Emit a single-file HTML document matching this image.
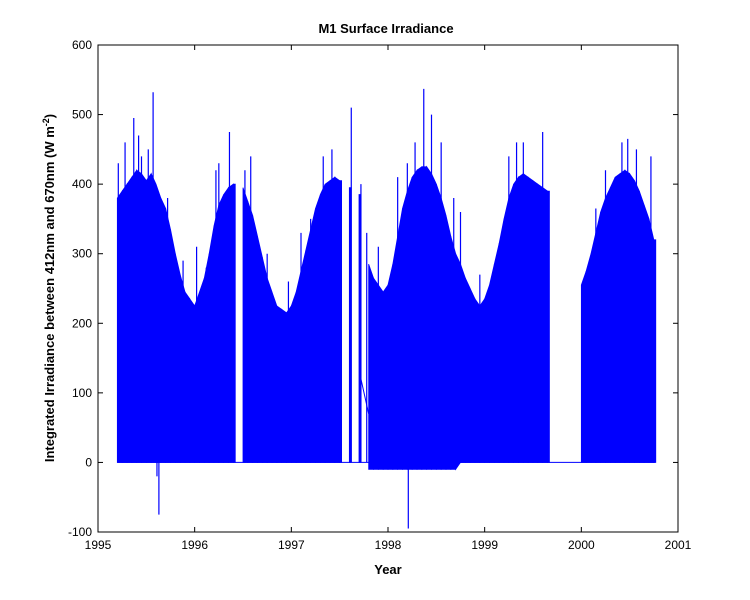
<!DOCTYPE html>
<html><head><meta charset="utf-8"><style>
body{margin:0;background:#fff;}
svg{display:block;font-family:"Liberation Sans",Arial,sans-serif;}
</style></head><body>
<svg id="chart" width="750" height="600">
<rect x="0" y="0" width="750" height="600" fill="#fff"/>
<g id="plot"></g>
<g id="axes"></g>
<text x="386" y="33" text-anchor="middle" font-size="13" font-weight="bold">M1 Surface Irradiance</text>
<text x="388" y="574" text-anchor="middle" font-size="13" font-weight="bold">Year</text>
<text transform="translate(54,288) rotate(-90)" text-anchor="middle" font-size="13" font-weight="bold">Integrated Irradiance between 412nm and 670nm (W m<tspan dy="-5" font-size="9">-2</tspan><tspan dy="5">)</tspan></text>
</svg>
<script>
const xTicks=[1995,1996,1997,1998,1999,2000,2001];
const yTicks=[-100,0,100,200,300,400,500,600];
const sampleYears=[1995.20,1995.25,1995.30,1995.35,1995.40,1995.45,1995.50,1995.55,1995.60,1995.65,1995.70,1995.75,1995.80,1995.85,1995.90,1995.95,1996.00,1996.05,1996.10,1996.15,1996.20,1996.25,1996.30,1996.35,1996.40,1996.45,1996.50,1996.55,1996.60,1996.65,1996.70,1996.75,1996.80,1996.85,1996.90,1996.95,1997.00,1997.05,1997.10,1997.15,1997.20,1997.25,1997.30,1997.35,1997.40,1997.45,1997.50,1997.55,1997.60,1997.65,1997.70,1997.75,1997.80,1997.85,1997.90,1997.95,1998.00,1998.05,1998.10,1998.15,1998.20,1998.25,1998.30,1998.35,1998.40,1998.45,1998.50,1998.55,1998.60,1998.65,1998.70,1998.75,1998.80,1998.85,1998.90,1998.95,1999.00,1999.05,1999.10,1999.15,1999.20,1999.25,1999.30,1999.35,1999.40,1999.45,1999.50,1999.55,1999.60,1999.65,2000.00,2000.05,2000.10,2000.15,2000.20,2000.25,2000.30,2000.35,2000.40,2000.45,2000.50,2000.55,2000.60,2000.65,2000.70,2000.75];
const maxVals=[380,390,400,410,420,415,405,415,400,380,365,335,300,270,245,235,225,245,265,300,340,370,385,395,400,null,395,375,355,325,295,265,245,225,220,215,225,245,275,305,335,365,385,400,405,410,405,null,395,null,385,null,285,265,255,245,255,285,325,365,390,410,420,425,425,415,400,380,355,325,300,285,265,250,235,225,235,255,285,315,350,380,400,410,415,410,405,400,395,390,255,275,300,330,360,380,395,410,415,420,415,405,390,370,350,320];
const negStart=1997.78, negEnd=1998.70, negDepth=-10;
const spikeYears=[1995.21,1995.28,1995.37,1995.42,1995.45,1995.52,1995.57,1995.61,1995.63,1995.72,1995.88,1996.02,1996.12,1996.22,1996.25,1996.36,1996.52,1996.58,1996.75,1996.97,1997.10,1997.20,1997.33,1997.42,1997.62,1997.72,1997.78,1997.90,1998.10,1998.20,1998.21,1998.28,1998.37,1998.45,1998.55,1998.68,1998.75,1998.95,1999.25,1999.33,1999.40,1999.60,2000.15,2000.25,2000.42,2000.48,2000.57,2000.72];
const spikeVals=[430,460,495,470,440,450,532,-20,-75,380,290,310,280,420,430,475,420,440,300,260,330,350,440,450,510,400,330,310,410,430,-95,460,537,500,460,380,360,270,440,460,460,475,365,420,460,465,450,440];
const gapLineYears=[1997.72,1997.80];
const gapLineVals=[120,70];
const x0=98,x1=678,yTop=45,yBot=532;
const X=v=>x0+(v-1995)/(2001-1995)*(x1-x0);
const Y=v=>yBot-(v+100)/700*(yBot-yTop);
const minAt=yr=>(yr>=negStart&&yr<=negEnd)?negDepth:0;
const NS="http://www.w3.org/2000/svg";
const plot=document.getElementById('plot'),axes=document.getElementById('axes');
function mk(tag,attrs,parent){const e=document.createElementNS(NS,tag);for(const k in attrs)e.setAttribute(k,attrs[k]);parent.appendChild(e);return e;}
let bl=mk('line',{x1:X(1995.2),x2:X(2000.76),y1:Y(0),y2:Y(0),stroke:'#00f','stroke-width':1},plot);


let gl=mk('line',{x1:X(gapLineYears[0]),x2:X(gapLineYears[1]),y1:Y(gapLineVals[0]),y2:Y(gapLineVals[1]),stroke:'#00f','stroke-width':1},plot);


for(let i=0;i<sampleYears.length;i++){
  const v=maxVals[i];
  if(v===null||v===undefined)continue;
  const a=sampleYears[i];
  const hasNext=(i+1<sampleYears.length)&&maxVals[i+1]!==null&&maxVals[i+1]!==undefined&&(sampleYears[i+1]-a)<0.06;
  const b=hasNext?sampleYears[i+1]:a+0.02;
  const vb=hasNext?maxVals[i+1]:v;
  const pts=[X(a)+','+Y(v),X(b)+','+Y(vb),X(b)+','+Y(minAt(b)),X(a)+','+Y(minAt(a))].join(' ');
  const p=mk('polygon',{points:pts,fill:'#00f',stroke:'#00f','stroke-width':0.8},plot);
  
  
}
for(let i=0;i<spikeYears.length;i++){
  const l=mk('line',{x1:X(spikeYears[i]),x2:X(spikeYears[i]),y1:Y(0),y2:Y(spikeVals[i]),stroke:'#00f','stroke-width':1.2},plot);
  
  
}
const fr=mk('rect',{x:x0,y:yTop,width:x1-x0,height:yBot-yTop,fill:'none',stroke:'#000','stroke-width':1},axes);


xTicks.forEach(t=>{
  mk('line',{x1:X(t),x2:X(t),y1:yBot,y2:yBot-5,stroke:'#000'},axes);
  mk('line',{x1:X(t),x2:X(t),y1:yTop,y2:yTop+5,stroke:'#000'},axes);
  const tx=mk('text',{x:X(t),y:yBot+17,'text-anchor':'middle','font-size':12},axes);
  tx.textContent=t;
  
  
});
yTicks.forEach(t=>{
  mk('line',{x1:x0,x2:x0+5,y1:Y(t),y2:Y(t),stroke:'#000'},axes);
  mk('line',{x1:x1,x2:x1-5,y1:Y(t),y2:Y(t),stroke:'#000'},axes);
  const tx=mk('text',{x:x0-6,y:Y(t)+4,'text-anchor':'end','font-size':12},axes);
  tx.textContent=t;
  
  
});
</script>
</body></html>
